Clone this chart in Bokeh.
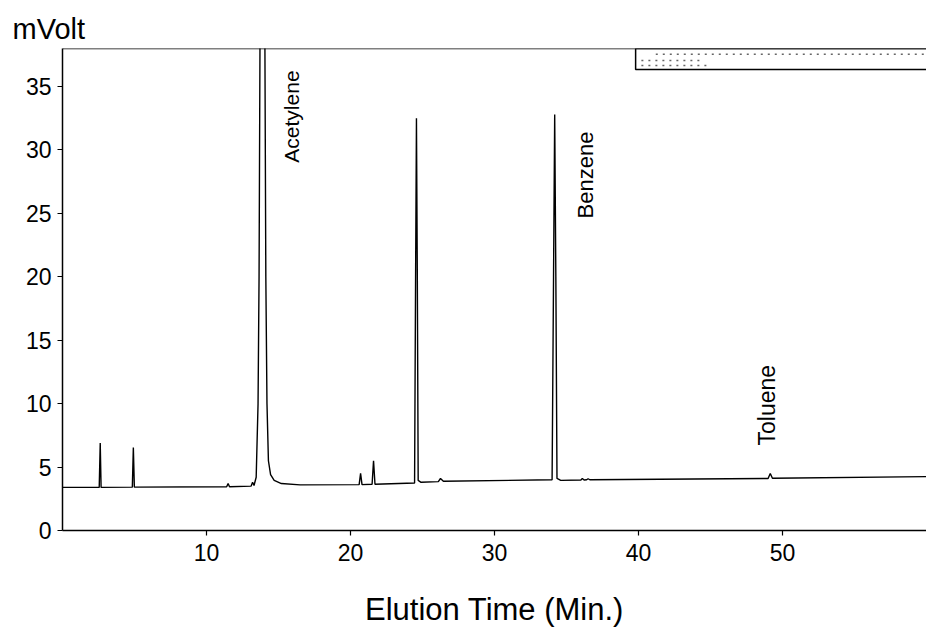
from math import pi
from bokeh.plotting import figure
from bokeh.models import Range1d, FixedTicker, Span, Title, ColumnDataSource
from bokeh.core.properties import value
from bokeh.embed import file_html
from bokeh.resources import INLINE

# ---- chromatogram trace ----
time_min = [0.0, 2.55, 2.62, 2.68, 4.85, 4.92, 4.99, 11.4, 11.5, 11.6, 13.1, 13.2, 13.3,
            13.45, 13.58, 13.65, 13.72, 14.05, 14.12, 14.2, 14.3, 14.45, 14.7, 15.2, 16.5,
            20.6, 20.7, 20.8, 21.5, 21.6, 21.7, 24.45, 24.52, 24.58, 24.64, 24.7, 24.9,
            26.1, 26.25, 26.45, 34.0, 34.1, 34.18, 34.26, 34.34, 34.6, 36.0, 36.1, 36.22,
            36.4, 36.5, 36.62, 49.0, 49.15, 49.3, 60.0]
signal_mv = [3.4, 3.4, 6.9, 3.4, 3.42, 6.55, 3.42, 3.45, 3.7, 3.45, 3.5, 3.8, 3.55,
             4.2, 10.0, 20.0, 40.0, 40.0, 20.0, 10.0, 5.5, 4.4, 3.95, 3.7, 3.6,
             3.62, 4.5, 3.62, 3.65, 5.5, 3.65, 3.75, 20.0, 32.5, 20.0, 3.95, 3.8,
             3.85, 4.1, 3.88, 4.0, 20.0, 32.8, 20.0, 4.1, 3.95, 3.98, 4.1, 3.98,
             4.0, 4.08, 4.0, 4.1, 4.5, 4.12, 4.25]

# ---- peak labels ----
peak_names = ["Acetylene", "Benzene", "Toluene"]
peak_label_x = [15.9, 36.3, 48.9]
peak_label_y = [29.0, 24.6, 6.7]
peak_label_size = ["21px", "22px", "23px"]

# ---- axis ticks ----
x_ticks = [10, 20, 30, 40, 50]
y_ticks = [0, 5, 10, 15, 20, 25, 30, 35]

# ---- instrument info box (top right) ----
box_left, box_right, box_bottom, box_top = [39.8], [61.0], [36.35], [38.0]
info_row_x0 = [41.2, 40.2, 40.2]
info_row_x1 = [60.5, 44.5, 44.8]
info_row_y = [37.55, 37.05, 36.65]

p = figure(width=926, height=631, output_backend="svg", toolbar_location=None,
           x_range=Range1d(0, 60), y_range=Range1d(0, 38),
           min_border_left=62, min_border_right=0, min_border_top=48, min_border_bottom=101)

p.outline_line_color = None
p.xgrid.grid_line_color = None
p.ygrid.grid_line_color = None
p.background_fill_color = "white"
p.border_fill_color = "white"

p.line(time_min, signal_mv, line_color="black", line_width=1.4)

src = ColumnDataSource(dict(x=peak_label_x, y=peak_label_y, t=peak_names, s=peak_label_size))
p.text(x="x", y="y", text="t", source=src, angle=pi / 2, text_align="left",
       text_baseline="middle", text_font=value("Liberation Sans"), text_font_size="s",
       text_color="black")

# info box
p.quad(left=box_left, right=box_right, bottom=box_bottom, top=box_top,
       fill_color=None, line_color="black", line_width=1.5)
p.segment(x0=info_row_x0, y0=info_row_y, x1=info_row_x1, y1=info_row_y,
          line_color="#666666", line_width=1.5, line_dash="2 5")

# top frame line
p.add_layout(Span(location=38, dimension="width", line_color="black", line_width=1.5))

# axes
for ax in (p.xaxis[0], p.yaxis[0]):
    ax.axis_line_color = "black"
    ax.axis_line_width = 1.5
    ax.major_tick_line_color = "black"
    ax.major_tick_line_width = 1.2
    ax.major_tick_out = 5
    ax.major_tick_in = 0
    ax.minor_tick_line_color = None
    ax.major_label_text_font = "Liberation Sans"
    ax.major_label_text_font_size = "23px"
    ax.major_label_text_color = "black"
    ax.major_label_standoff = 6

p.xaxis.ticker = FixedTicker(ticks=x_ticks)
p.yaxis.ticker = FixedTicker(ticks=y_ticks)
p.xaxis.major_label_standoff = 8
p.xaxis.axis_label = "Elution Time (Min.)"
p.xaxis.axis_label_text_font = "Liberation Sans"
p.xaxis.axis_label_text_font_size = "31px"
p.xaxis.axis_label_text_font_style = "normal"
p.xaxis.axis_label_text_color = "black"
p.xaxis.axis_label_standoff = 28

p.add_layout(Title(text="mVolt", align="left", offset=-50, standoff=7,
                   text_font="Liberation Sans", text_font_size="29px",
                   text_font_style="normal", text_color="black"), "above")

open("out.html", "w").write(file_html(p, INLINE))
